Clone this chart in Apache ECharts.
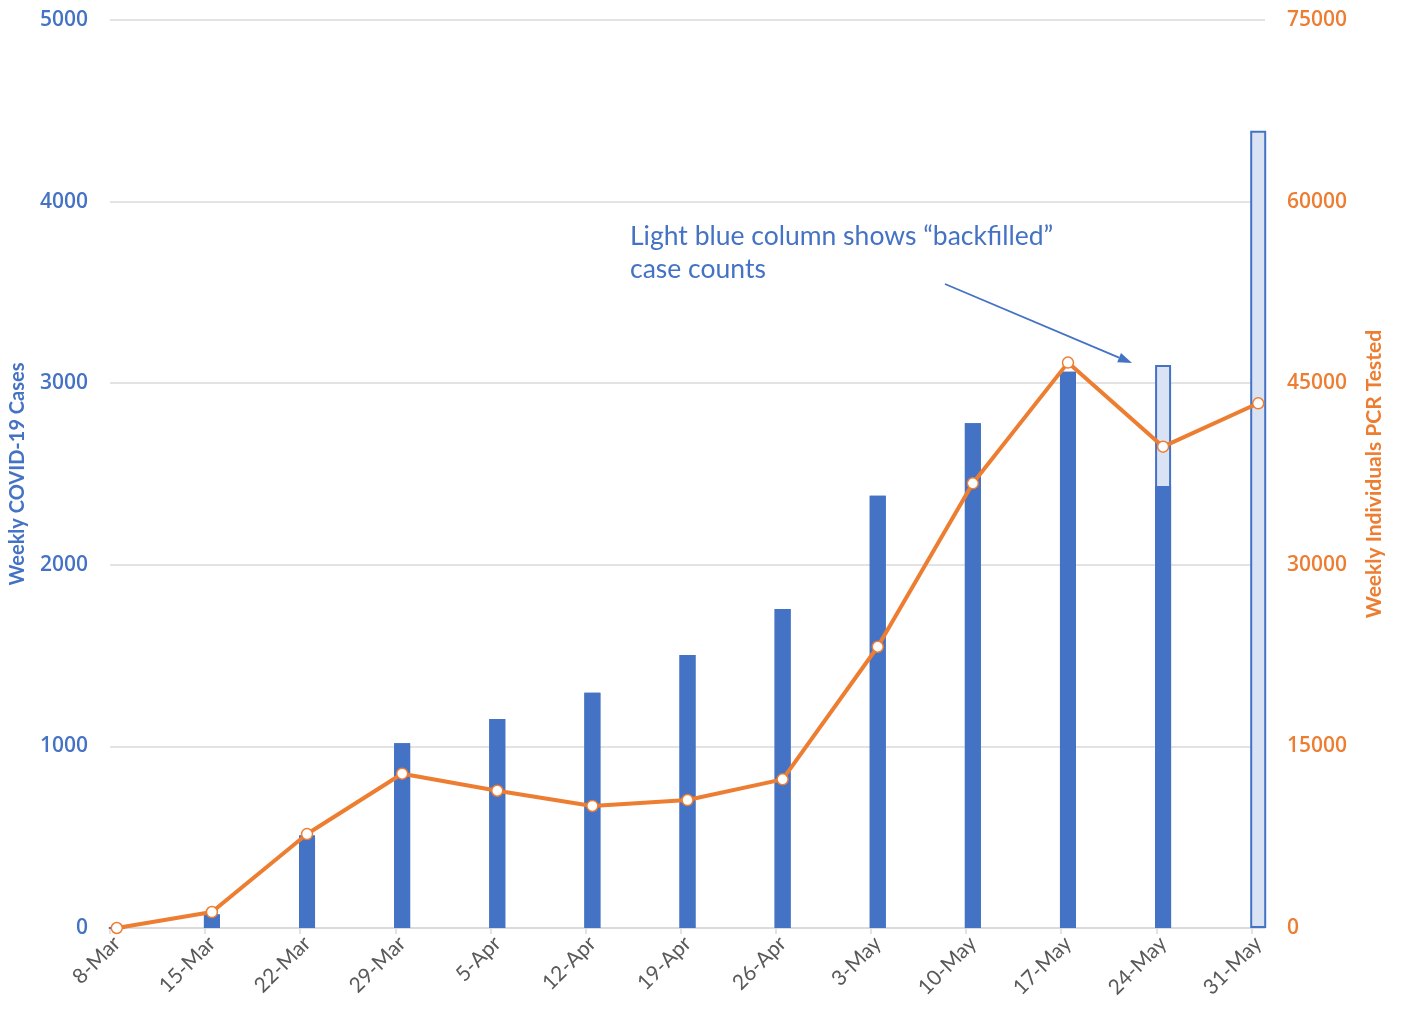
<!DOCTYPE html>
<html>
<head>
<meta charset="utf-8">
<title>Weekly COVID-19 Cases and PCR Testing</title>
<script src="https://cdn.jsdelivr.net/npm/echarts@6/dist/echarts.min.js"></script>
<style>
  html, body { margin: 0; padding: 0; background: #ffffff; }
  #chart { width: 1402px; height: 1011px; }
</style>
</head>
<body>
<div id="chart"></div>
<script>
// Week-starting dates (one week apart)
const weeks = ['8-Mar', '15-Mar', '22-Mar', '29-Mar', '5-Apr', '12-Apr', '19-Apr',
               '26-Apr', '3-May', '10-May', '17-May', '24-May', '31-May'];

// Weekly cases reported at the time (dark blue)
const reportedCases = [0, 75, 510, 1017, 1151, 1296, 1503, 1757, 2380, 2779, 3063, 2434, 0];

// Additional "backfilled" cases added on top of the reported ones (light blue)
const backfilledCases = [0, 0, 0, 0, 0, 0, 0, 0, 0, 0, 0, 666, 4390];

// Weekly individuals PCR tested (orange line, right axis)
const pcrTested = [0, 1320, 7760, 12745, 11340, 10080, 10570, 12280, 23230, 36730, 46700, 39760, 43340];

// Left / right axis tick settings
const caseTicks = { min: 0, max: 5000, interval: 1000 };
const testTicks = { min: 0, max: 75000, interval: 15000 };

const BLUE = '#4472C4';
const LIGHT_BLUE = '#DAE3F3';
const ORANGE = '#ED7D31';

// x positions in days from the first week; each value sits in the middle of its day
const DAYS_PER_WEEK = 7;
const weekStartDays = weeks.map((w, i) => i * DAYS_PER_WEEK);
const dayMid = weekStartDays.map(d => d + 0.5);
const axisEndDay = weekStartDays[weekStartDays.length - 1] + 1;

const pair = vals => vals.map((v, i) => [dayMid[i], v]);
// light column = full count (reported + backfilled), drawn behind the dark column
const totalCases = reportedCases.map((v, i) => v + backfilledCases[i]);

const chart = echarts.init(document.getElementById('chart'), null, { renderer: 'canvas' });

const numFont = '"Open Sans", "Noto Sans", sans-serif';
const textFont = 'Lato, "Noto Sans", sans-serif';

chart.setOption({
  animation: false,
  backgroundColor: '#ffffff',
  grid: { left: 110, right: 137, top: 20, bottom: 83, outerBoundsMode: 'none' },
  xAxis: {
    type: 'value',
    min: 0,
    max: axisEndDay,
    splitLine: { show: false },
    axisLine: { show: true, lineStyle: { color: '#D9D9D9', width: 1.5 } },
    axisTick: {
      show: true,
      customValues: weekStartDays,
      length: 6,
      lineStyle: { color: '#D9D9D9', width: 1.5 }
    },
    axisLabel: {
      customValues: dayMid,
      formatter: v => weeks[Math.round((v - 0.5) / DAYS_PER_WEEK)],
      rotate: 45,
      margin: 12,
      color: '#595959',
      fontFamily: textFont,
      fontSize: 21
    }
  },
  yAxis: [
    {
      type: 'value',
      min: caseTicks.min,
      max: caseTicks.max,
      interval: caseTicks.interval,
      name: 'Weekly COVID-19 Cases',
      nameLocation: 'middle',
      nameGap: 82,
      nameRotate: 90,
      nameTextStyle: { color: BLUE, fontFamily: textFont, fontWeight: 'bold', fontSize: 20 },
      axisLine: { show: false },
      axisTick: { show: false },
      axisLabel: {
        color: BLUE, fontFamily: numFont, fontWeight: 600, fontSize: 21, margin: 22,
        formatter: v => String(v)
      },
      splitLine: { show: true, lineStyle: { color: '#E3E3E3', width: 2 } }
    },
    {
      type: 'value',
      min: testTicks.min,
      max: testTicks.max,
      interval: testTicks.interval,
      name: 'Weekly Individuals PCR Tested',
      nameLocation: 'middle',
      nameGap: 99,
      nameRotate: 90,
      nameTextStyle: { color: ORANGE, fontFamily: textFont, fontWeight: 'bold', fontSize: 21 },
      axisLine: { show: false },
      axisTick: { show: false },
      axisLabel: {
        color: ORANGE, fontFamily: numFont, fontWeight: 600, fontSize: 21, margin: 22,
        formatter: v => String(v)
      },
      splitLine: { show: false }
    }
  ],
  series: [
    {
      name: 'Backfilled cases',
      type: 'bar',
      yAxisIndex: 0,
      barWidth: 16,
      barGap: '-100%',
      data: pair(totalCases),
      itemStyle: { color: LIGHT_BLUE, borderColor: BLUE, borderWidth: 2 },
      z: 2
    },
    {
      name: 'Reported cases',
      type: 'bar',
      yAxisIndex: 0,
      barWidth: 16,
      barGap: '-100%',
      data: pair(reportedCases),
      itemStyle: { color: BLUE },
      z: 3
    },
    {
      name: 'Individuals PCR tested',
      type: 'line',
      yAxisIndex: 1,
      data: pair(pcrTested),
      symbol: 'circle',
      symbolSize: 11,
      lineStyle: { color: ORANGE, width: 4 },
      itemStyle: { color: '#ffffff', borderColor: ORANGE, borderWidth: 1.5 },
      z: 5
    }
  ],
  graphic: [
    {
      type: 'text',
      left: 630,
      top: 220,
      style: {
        text: 'Light blue column shows “backfilled”\ncase counts',
        fill: BLUE,
        font: '26.5px Lato, "Noto Sans", sans-serif',
        lineHeight: 33
      },
      z: 10
    },
    {
      type: 'polyline',
      shape: { points: [[945, 284], [1119, 357.6]] },
      style: { stroke: BLUE, lineWidth: 1.8, fill: null },
      z: 10
    },
    {
      type: 'polygon',
      shape: { points: [[1132, 363], [1117.2, 362.2], [1121.0, 353.0]] },
      style: { fill: BLUE },
      z: 10
    }
  ]
});
</script>
</body>
</html>
